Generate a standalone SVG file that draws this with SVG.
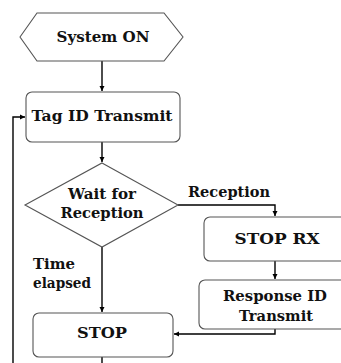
<svg xmlns="http://www.w3.org/2000/svg" width="341" height="363" viewBox="0 0 341 363">
  <style>
    .shape { fill: #ffffff; stroke: #555555; stroke-width: 1.1; }
    .lbl { font-family: "DejaVu Serif", "Liberation Serif", serif; font-weight: bold; font-size: 15px; fill: #111111; text-anchor: middle; }
    .note { font-family: "DejaVu Serif", "Liberation Serif", serif; font-weight: bold; font-size: 15px; fill: #111111; }
    .wire { fill: none; stroke: #000000; stroke-width: 1.4; }
  </style>
  <defs>
    <marker id="arr" markerWidth="6" markerHeight="6" refX="5" refY="3" orient="auto" markerUnits="userSpaceOnUse">
      <path d="M0,0.5 L5,3 L0,5.5 Z" fill="#000000"/>
    </marker>
  </defs>
  <rect width="341" height="363" fill="#ffffff"/>

  <g id="connectors">
    <line class="wire" x1="102" y1="61" x2="102" y2="91" marker-end="url(#arr)"/>
    <line class="wire" x1="102" y1="142" x2="102" y2="162" marker-end="url(#arr)"/>
    <polyline class="wire" points="178,205 275,205 275,216" marker-end="url(#arr)"/>
    <line class="wire" x1="275" y1="261" x2="275" y2="279" marker-end="url(#arr)"/>
    <polyline class="wire" points="275,329 275,334 174,334" marker-end="url(#arr)"/>
    <line class="wire" x1="102" y1="247" x2="102" y2="312" marker-end="url(#arr)"/>
    <line class="wire" x1="102" y1="357" x2="102" y2="363"/>
    <polyline class="wire" points="13,363 13,117 25,117" marker-end="url(#arr)"/>
  </g>

  <g id="system-on">
    <polygon class="shape" points="20,37 37,13 164,13 183,37 164,61 37,61"/>
    <text class="lbl" x="103" y="42" textLength="93" lengthAdjust="spacingAndGlyphs">System ON</text>
  </g>

  <g id="tag-id-transmit">
    <rect class="shape" x="26" y="92" width="154" height="50" rx="6"/>
    <text class="lbl" x="102" y="121" textLength="141" lengthAdjust="spacingAndGlyphs">Tag ID Transmit</text>
  </g>

  <g id="wait-for-reception">
    <polygon class="shape" points="102,163 178,205 102,247 25,205"/>
    <text class="lbl" x="102" y="199" textLength="68" lengthAdjust="spacingAndGlyphs">Wait for</text>
    <text class="lbl" x="102" y="218" textLength="83" lengthAdjust="spacingAndGlyphs">Reception</text>
  </g>

  <g id="stop-rx">
    <rect class="shape" x="204" y="217" width="150" height="44" rx="6"/>
    <text class="lbl" x="277" y="244" textLength="85" lengthAdjust="spacingAndGlyphs">STOP RX</text>
  </g>

  <g id="response-id-transmit">
    <rect class="shape" x="199" y="280" width="155" height="49" rx="6"/>
    <text class="lbl" x="275" y="301" textLength="104" lengthAdjust="spacingAndGlyphs">Response ID</text>
    <text class="lbl" x="276" y="321" textLength="74" lengthAdjust="spacingAndGlyphs">Transmit</text>
  </g>

  <g id="stop">
    <rect class="shape" x="33" y="313" width="140" height="44" rx="6"/>
    <text class="lbl" x="102" y="338" textLength="50" lengthAdjust="spacingAndGlyphs">STOP</text>
  </g>

  <g id="labels">
    <text class="note" x="229" y="197" text-anchor="middle" textLength="82" lengthAdjust="spacingAndGlyphs">Reception</text>
    <text class="note" x="33" y="269" textLength="42" lengthAdjust="spacingAndGlyphs">Time</text>
    <text class="note" x="33" y="288" textLength="58" lengthAdjust="spacingAndGlyphs">elapsed</text>
  </g>
</svg>
